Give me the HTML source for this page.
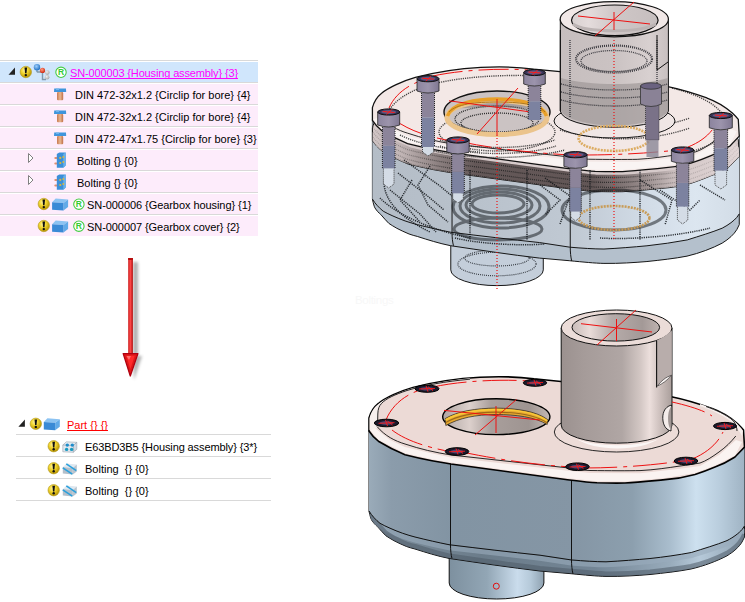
<!DOCTYPE html>
<html><head><meta charset="utf-8">
<style>
html,body{margin:0;padding:0;background:#fff}
body{width:745px;height:602px;position:relative;overflow:hidden;font-family:"Liberation Sans",sans-serif;font-size:11px;color:#000}
.ln{position:absolute;height:1px;background:#d9d9d9}
.row{position:absolute;height:20px}
.t{position:absolute;white-space:pre;line-height:11px;top:0;text-decoration-skip-ink:none}
svg{position:absolute;left:0;top:0}
</style></head><body>
<!-- top tree backgrounds -->
<div class="ln" style="left:0;top:60px;width:258px"></div>
<div class="row" style="left:0;top:62px;width:258px;background:#d0e6fc"></div>
<div class="ln" style="left:0;top:82px;width:258px"></div>
<div class="row" style="left:0;top:84px;width:258px;background:#fdecfb"></div>
<div class="ln" style="left:0;top:104px;width:258px"></div>
<div class="row" style="left:0;top:106px;width:258px;background:#fdecfb"></div>
<div class="ln" style="left:0;top:126px;width:258px"></div>
<div class="row" style="left:0;top:128px;width:258px;background:#fdecfb"></div>
<div class="ln" style="left:0;top:148px;width:258px"></div>
<div class="row" style="left:0;top:150px;width:258px;background:#fdecfb"></div>
<div class="ln" style="left:0;top:170px;width:258px"></div>
<div class="row" style="left:0;top:172px;width:258px;background:#fdecfb"></div>
<div class="ln" style="left:0;top:192px;width:258px"></div>
<div class="row" style="left:0;top:194px;width:258px;background:#fdecfb"></div>
<div class="ln" style="left:0;top:214px;width:258px"></div>
<div class="row" style="left:0;top:216px;width:258px;background:#fdecfb"></div>
<!-- bottom tree lines -->
<div class="ln" style="left:16px;top:434px;width:255px"></div>
<div class="ln" style="left:16px;top:456px;width:255px"></div>
<div class="ln" style="left:16px;top:478px;width:255px"></div>
<div class="ln" style="left:16px;top:500px;width:255px"></div>

<!-- texts -->
<div class="t" style="left:70px;top:68px;color:#f0f;text-decoration:underline;letter-spacing:-0.14px">SN-000003 {Housing assembly} {3}</div>
<div class="t" style="left:75px;top:90px">DIN 472-32x1.2 {Circlip for bore} {4}</div>
<div class="t" style="left:75px;top:112px">DIN 472-32x1.2 {Circlip for bore} {4}</div>
<div class="t" style="left:75px;top:134px">DIN 472-47x1.75 {Circlip for bore} {3}</div>
<div class="t" style="left:77px;top:156px">Bolting {} {0}</div>
<div class="t" style="left:77px;top:178px">Bolting {} {0}</div>
<div class="t" style="left:87px;top:200px;letter-spacing:-0.065px">SN-000006 {Gearbox housing} {1}</div>
<div class="t" style="left:87px;top:222px;letter-spacing:-0.07px">SN-000007 {Gearbox cover} {2}</div>
<div class="t" style="left:67px;top:420px;color:#f00;text-decoration:underline">Part {} {}</div>
<div class="t" style="left:85px;top:442px;letter-spacing:-0.11px">E63BD3B5 {Housing assembly} {3*}</div>
<div class="t" style="left:85px;top:464px">Bolting  {} {0}</div>
<div class="t" style="left:85px;top:486px">Bolting  {} {0}</div>
<div class="t" style="left:355px;top:295px;color:#f7f7f7;font-size:11.5px;letter-spacing:-0.3px">Boltings</div>

<svg width="745" height="602" viewBox="0 0 745 602">
<defs>
 <radialGradient id="gY" cx="40%" cy="35%" r="65%"><stop offset="0" stop-color="#fff3a0"/><stop offset="0.45" stop-color="#f2d630"/><stop offset="1" stop-color="#b89400"/></radialGradient>
 <radialGradient id="gBl" cx="40%" cy="35%" r="65%"><stop offset="0" stop-color="#9fd0ff"/><stop offset="1" stop-color="#1f6fc0"/></radialGradient>
 <radialGradient id="gRd" cx="40%" cy="35%" r="65%"><stop offset="0" stop-color="#ff9a80"/><stop offset="1" stop-color="#d02a10"/></radialGradient>
 <radialGradient id="gGr" cx="40%" cy="35%" r="65%"><stop offset="0" stop-color="#eeeeee"/><stop offset="1" stop-color="#a8a8a8"/></radialGradient>
 <linearGradient id="gCu" x1="0" x2="1"><stop offset="0" stop-color="#c87850"/><stop offset="0.5" stop-color="#e8b890"/><stop offset="1" stop-color="#c07048"/></linearGradient>
 <g id="warn"><circle cx="0" cy="0" r="5.7" fill="url(#gY)" stroke="#b49a20" stroke-width="0.6"/><path d="M-1.3,-4.4 L1.3,-4.4 L0.7,1.3 L-0.7,1.3 Z" fill="#111"/><circle cx="0" cy="3.1" r="1.2" fill="#111"/></g>
 <g id="reg"><circle cx="0" cy="0" r="5.2" fill="#fff" stroke="#44cc44" stroke-width="1.1"/><text x="0" y="3" text-anchor="middle" font-family="Liberation Sans" font-weight="bold" font-size="8.5" fill="#33cc33">R</text></g>
 <g id="box"><path d="M0,3.8 L3.6,0 L16,1 L11.4,4.6 Z" fill="#8cc3f2"/><path d="M11.4,4.6 L16,1 L16,8.6 L11.4,12 Z" fill="#62aae8"/><path d="M0,3.8 L11.4,4.6 L11.4,12 L0,11.4 Z" fill="#3a8ad6"/></g>
 <g id="clip"><path d="M0.2,0.3 L12,0.3 L12.2,3.6 L0,3.6 Z" fill="#3f95dc"/><rect x="2" y="0.3" width="3" height="1.5" fill="#6fb4ee"/><rect x="3" y="3.6" width="6.2" height="8.3" rx="1" fill="url(#gCu)"/></g>
 <g id="bolt"><rect x="0" y="4.5" width="3.2" height="2" rx="1" fill="#e09070"/><rect x="0" y="10" width="3.2" height="2" rx="1" fill="#e09070"/><path d="M2.5,1.5 L5,0 L11.4,0 L11.4,13 L9,15.4 L2.5,15.4 Z" fill="#3b8fd8"/><path d="M9,1.5 L11.4,0 L11.4,13 L9,15.4 Z" fill="#6ab0ea"/><circle cx="6" cy="5.5" r="1.1" fill="#d9b640"/><circle cx="9" cy="4.5" r="1" fill="#d9b640"/><circle cx="6" cy="10.6" r="1.1" fill="#d9b640"/><circle cx="9" cy="9.6" r="1" fill="#d9b640"/></g>
 <g id="tri"><path d="M6.5,0 L6.5,7.3 L0,7.3 Z" fill="#222"/></g>
 <g id="otri"><path d="M0.5,0.5 L5,5 L0.5,9.5 Z" fill="#fff" stroke="#808080" stroke-width="1"/></g>
 <g id="glass"><path d="M0,3.3 L3.5,0 L14,0.5 L10.5,3.8 Z" fill="#e4ecf2" stroke="#9aa4ae" stroke-width="0.6"/><path d="M10.5,3.8 L14,0.5 L14,7.5 L10.5,10.5 Z" fill="#d0dae4" stroke="#9aa4ae" stroke-width="0.6"/><path d="M0,3.3 L10.5,3.8 L10.5,10.5 L0,10 Z" fill="#dfe6ee" stroke="#9aa4ae" stroke-width="0.6"/><circle cx="4.5" cy="3.3" r="1.7" fill="#1e8ccc"/><circle cx="9.5" cy="3.3" r="1.7" fill="#1e8ccc"/><circle cx="3.8" cy="7.6" r="1.7" fill="#1a9ac0"/><circle cx="8.8" cy="7.6" r="1.7" fill="#1a9ac0"/></g>
 <g id="gbolt"><path d="M0,4 L4,0.5 L14,1.5 L10,5 Z" fill="#dfe8f0"/><path d="M10,5 L14,1.5 L14,8.5 L10,11.4 Z" fill="#b8c4cf"/><path d="M0,4 L10,5 L10,11.4 L0,10.5 Z" fill="#b4bfca"/><path d="M0,4.8 L9.5,11.2" stroke="#2aa0dc" stroke-width="1.6"/><path d="M3.5,0.8 L13.5,7.6" stroke="#2aa0dc" stroke-width="1.6"/></g>
</defs>
<!-- top tree icons -->
<use href="#tri" x="8.5" y="67.5"/>
<use href="#warn" x="25.8" y="72"/>
<g stroke="#7f98ab" stroke-width="1.4" fill="none"><path d="M36.5,70.5 L37.5,72 L41,72"/><path d="M42.5,72 L42.5,79.5 L46,79.5"/></g>
<circle cx="37" cy="67.3" r="3.2" fill="url(#gBl)"/>
<circle cx="42.5" cy="70.4" r="2.6" fill="url(#gRd)"/>
<circle cx="47.3" cy="72.6" r="2.3" fill="url(#gGr)"/>
<circle cx="47.1" cy="77.3" r="2.3" fill="url(#gGr)"/>
<use href="#reg" x="61" y="72.3"/>
<use href="#clip" x="54" y="88.3"/>
<use href="#clip" x="54" y="110.3"/>
<use href="#clip" x="54" y="132.3"/>
<use href="#otri" x="28" y="153"/>
<use href="#otri" x="28" y="175"/>
<use href="#bolt" x="54.3" y="152.4"/>
<use href="#bolt" x="54.3" y="174.4"/>
<use href="#warn" x="43.8" y="204"/>
<use href="#warn" x="43.8" y="226"/>
<use href="#box" x="52.1" y="198.4"/>
<use href="#box" x="52.1" y="220.4"/>
<use href="#reg" x="78.9" y="204.2"/>
<use href="#reg" x="78.9" y="226.2"/>
<!-- bottom tree icons -->
<use href="#tri" x="18.4" y="419.5"/>
<use href="#warn" x="35.8" y="423.8"/>
<use href="#box" x="43.8" y="418.2"/>
<use href="#warn" x="53.7" y="446.2"/>
<use href="#warn" x="53.7" y="468.2"/>
<use href="#warn" x="53.7" y="490.2"/>
<use href="#glass" x="62.8" y="441.8"/>
<use href="#gbolt" x="62.8" y="463"/>
<use href="#gbolt" x="62.8" y="485"/>
<!-- arrow -->
<defs><linearGradient id="gAr" x1="0" x2="1"><stop offset="0" stop-color="#c81818"/><stop offset="0.45" stop-color="#ff4a4a"/><stop offset="1" stop-color="#b00e0e"/></linearGradient>
<filter id="fsh" x="-1" y="-0.2" width="3" height="1.4"><feGaussianBlur stdDeviation="1.6"/></filter></defs>
<g opacity="0.45" filter="url(#fsh)"><rect x="133" y="262" width="5" height="93" fill="#555"/><path d="M133,356 L142,356 L134,380 Z" fill="#555"/></g>
<rect x="128.2" y="258" width="4.7" height="97" fill="url(#gAr)"/><rect x="128.2" y="258" width="4.7" height="2" fill="#b80e0e"/>
<path d="M123.2,353.6 L137.9,353.6 L130.3,376 Z" fill="#e01818" stroke="#b00010" stroke-width="1.3" stroke-linejoin="round"/>
<path d="M126.3,355.8 L134.7,355.8 L130.4,369 Z" fill="#ff2a2a"/>
<path d="M126.5,356 L131,356 L129,360 Z" fill="#ff8080" opacity="0.8"/>
<defs>
 <linearGradient id="gTBody" x1="369" x2="745" y1="0" y2="0" gradientUnits="userSpaceOnUse"><stop offset="0" stop-color="#b4bdc7"/><stop offset="0.25" stop-color="#b8c1cb"/><stop offset="0.55" stop-color="#c0c9d3"/><stop offset="0.75" stop-color="#d2dce7"/><stop offset="0.88" stop-color="#dce6f0"/><stop offset="1" stop-color="#d2dce6"/></linearGradient>
 <linearGradient id="gTTube" x1="561" x2="672" y1="0" y2="0" gradientUnits="userSpaceOnUse">
  <stop offset="0" stop-color="#c6bebe"/><stop offset="0.5" stop-color="#cbc3c3"/><stop offset="0.8" stop-color="#d8d0d0"/><stop offset="1" stop-color="#c4bcbc"/></linearGradient>
 <linearGradient id="gScrH" x1="0" x2="1" y1="0" y2="0"><stop offset="0" stop-color="#8c849e"/><stop offset="0.5" stop-color="#9c94ac"/><stop offset="1" stop-color="#807892"/></linearGradient>
 <linearGradient id="gTBandS" x1="369" x2="745" y1="0" y2="0" gradientUnits="userSpaceOnUse"><stop offset="0" stop-color="#d2c6c6"/><stop offset="0.08" stop-color="#c0b4b4"/><stop offset="0.18" stop-color="#8c8080"/><stop offset="0.28" stop-color="#645858"/><stop offset="0.6" stop-color="#625656"/><stop offset="0.74" stop-color="#988c8c"/><stop offset="0.84" stop-color="#d4c8c8"/><stop offset="1" stop-color="#e2d6d6"/></linearGradient>
 <linearGradient id="gBandDots" x1="369" x2="745" y1="0" y2="0" gradientUnits="userSpaceOnUse"><stop offset="0" stop-color="#1e1e1e" stop-opacity="0.2"/><stop offset="0.1" stop-color="#1e1e1e" stop-opacity="0.35"/><stop offset="0.25" stop-color="#1e1e1e" stop-opacity="0.8"/><stop offset="0.65" stop-color="#1e1e1e" stop-opacity="0.8"/><stop offset="0.85" stop-color="#1e1e1e" stop-opacity="0.2"/><stop offset="1" stop-color="#1e1e1e" stop-opacity="0.1"/></linearGradient>
 <linearGradient id="gTIn" x1="571" x2="658" y1="0" y2="0" gradientUnits="userSpaceOnUse"><stop offset="0" stop-color="#d8d0d0"/><stop offset="0.2" stop-color="#e4dcdc"/><stop offset="0.5" stop-color="#cfc7c7"/><stop offset="1" stop-color="#c6bebe"/></linearGradient>
 <clipPath id="cpBand"><use href="#pLid" transform="translate(0,20.5)"/></clipPath>
</defs>
<g id="modelT" transform="matrix(0.977,0,0,0.9837,11.9,-303.6)">
 <use href="#pPipe" fill="#c4ceda" stroke="#111" stroke-width="1"/>
 <g fill="none" stroke="#3a3f46" stroke-width="1.2" stroke-dasharray="1,1">
  <ellipse cx="496.5" cy="577" rx="40" ry="12"/>
  <ellipse cx="496.5" cy="571" rx="33" ry="8"/>
 </g>
 <use href="#pSil" fill="#b4c0cc" stroke="#111" stroke-width="1"/>
 <use href="#pWall" fill="url(#gTBody)"/>
 <use href="#pFL" fill="none" stroke="#111" stroke-width="1"/>
 <use href="#pS1" fill="none" stroke="#111" stroke-width="1"/>
 <use href="#pS2" fill="none" stroke="#111" stroke-width="1"/>
 <use href="#pLid" transform="translate(0,20.5)" fill="#d6caca" stroke="#111" stroke-width="1"/>
 <g clip-path="url(#cpBand)"><use href="#pBnd" transform="translate(0,12)" fill="none" stroke="url(#gTBandS)" stroke-width="17.5"/></g>
 <use href="#pLid" fill="#f3e8e6" stroke="#111" stroke-width="1.3"/>
 <use href="#pHi" fill="#f9f4f3"/>
 <use href="#pIn" fill="none" stroke="#111" stroke-width="0.9"/>
</g>

<g fill="none" stroke="#101418" stroke-width="3" opacity="0.5">
 <ellipse cx="501" cy="207" rx="48" ry="21"/>
 <ellipse cx="500" cy="206" rx="40" ry="17"/>
 <ellipse cx="499" cy="205" rx="33" ry="13"/>
 <ellipse cx="498" cy="204" rx="26" ry="9"/>
 <ellipse cx="498" cy="229" rx="44" ry="11"/>
 <ellipse cx="614" cy="210" rx="52" ry="20"/>
</g>
<g fill="none" stroke="#101418" stroke-width="1.5" stroke-dasharray="1.2,1" opacity="0.85">
 <path d="M398,173 L430,198 L444,210"/>
 <path d="M404,160 L440,186 L452,196"/>
 <path d="M390,190 L420,214 L436,232"/>
 <path d="M412,180 L400,200 L420,222"/>
 <path d="M430,166 L418,185 L428,205 L448,222"/>
 <path d="M385,175 C380,195 395,215 430,232"/>
 <path d="M540,185 L560,200 L545,215"/>
 <path d="M545,178 L570,196 L560,224"/>
 <path d="M660,190 L690,210 L700,200"/>
 <path d="M640,180 L672,200 L665,225"/>
 <path d="M700,185 L725,200"/>
 <path d="M380,198 C400,218 440,232 470,238"/>
 <path d="M590,170 L590,240"/><path d="M640,170 L640,240"/>
 <path d="M470,170 L470,240"/><path d="M527,170 L527,240"/>
 <path d="M600,238 C630,240 680,236 710,228"/>
 <path d="M455,238 C480,244 520,246 545,244"/>
</g>
<!-- cover band dotted lines -->
<g transform="matrix(0.977,0,0,0.9837,11.9,-303.6)" fill="none" stroke="url(#gBandDots)" stroke-width="1.3" stroke-dasharray="1,1" clip-path="url(#cpBand)">
 <use href="#pBnd" transform="translate(0,6)"/>
 <use href="#pBnd" transform="translate(0,11)"/>
 <use href="#pBnd" transform="translate(0,16)"/>
 <use href="#pBnd" transform="translate(0,20)"/>
</g>
<!-- lid inner dotted structure -->
<g fill="none" stroke="#101010" stroke-width="1.4" stroke-dasharray="1.2,1" opacity="0.75">
 <path d="M385,128 C383,112 395,98 420,88 C450,77 500,74 545,76"/>
 <path d="M672,88 C700,95 722,106 726,122 C728,135 715,145 690,152"/>
 <path d="M400,135 C420,145 450,150 480,152"/>
 <ellipse cx="497" cy="132" rx="58" ry="19"/>
 <path d="M440,146 C470,156 525,156 556,146"/>
 <path d="M560,130 C600,142 650,142 690,128"/>
 <path d="M560,120 C600,132 650,132 690,118"/>
</g>

<ellipse cx="497" cy="112" rx="53" ry="21" fill="#cbc3c3" stroke="#111" stroke-width="1.4"/>
<path d="M450,110 C465,100 530,100 545,112 C530,106 465,106 450,110 Z" fill="#8e8686" opacity="0.6"/>
<g fill="none" stroke="#303030" stroke-width="1.4" stroke-dasharray="1,1">
 <ellipse cx="497" cy="119" rx="42" ry="13"/>
 <ellipse cx="497" cy="123" rx="36" ry="10"/>
 <path d="M440,140 C470,150 525,150 555,140"/>
 <path d="M430,150 C470,160 525,160 565,150"/>
</g>
<ellipse cx="497" cy="117.5" rx="50" ry="17" fill="none" stroke="#ebc48c" stroke-width="5"/>
<path d="M447.5,116 C452,103 476,99 497,99 C518,99 542,103 546.5,116" fill="none" stroke="#e8a028" stroke-width="3.4"/>
<path d="M449,112 C456,104 476,102 497,102 C518,102 538,104 545,112" fill="none" stroke="#b07818" stroke-width="1"/>

<ellipse cx="614.5" cy="121" rx="60.5" ry="17" fill="#efe6e5" stroke="#111" stroke-width="1"/>
<path d="M560.3,19 L560.3,111 A54.1,17 0 0 0 668.4,111 L668.4,19 Z" fill="url(#gTTube)" stroke="#111" stroke-width="1"/>
<path d="M561,78 C590,86 640,86 668,78 L668,111 A54.1,17 0 0 1 561,111 Z" fill="#a09898" opacity="0.7"/>
<g fill="none" stroke="#2a2a30" stroke-width="1.3" stroke-dasharray="1,1" opacity="0.9">
 <ellipse cx="614" cy="59" rx="38" ry="13.5" stroke-width="2.2"/>
 <ellipse cx="614" cy="61" rx="33" ry="10.5"/>
 <path d="M561,84 C590,92 640,92 668,84"/>
 <path d="M561,92 C590,100 640,100 668,92"/>
 <path d="M561,100 C590,108 640,108 668,100"/>
 <path d="M570,40 L570,118"/><path d="M657,40 L657,118"/>
</g>
<path d="M560.3,30 L560.3,111" stroke="#111" stroke-width="1"/>
<ellipse cx="614.3" cy="19.2" rx="54.1" ry="17.6" fill="#f1e8e7" stroke="#111" stroke-width="1.2"/>
<ellipse cx="614.8" cy="20.3" rx="43.3" ry="15.3" fill="url(#gTIn)" stroke="#111" stroke-width="1.2"/>
<path d="M573,24 C585,33 640,33 656,24" fill="none" stroke="#bcb4b4" stroke-width="3"/>
<path d="M657,35 L657,70 L668,62" fill="none" stroke="#111" stroke-width="1"/>

<ellipse cx="614" cy="138.4" rx="35.4" ry="12.5" fill="none" stroke="#dcac62" stroke-width="2.6" stroke-dasharray="2,1"/>
<ellipse cx="614" cy="218" rx="35.4" ry="12" fill="none" stroke="#c89c58" stroke-width="2.6" stroke-dasharray="2,1"/>

<g stroke="#ee1111" stroke-width="1" fill="none">
 <path d="M578,16 L650,24"/><path d="M595,36 L634,2"/><path d="M614,12 L614,30"/>
 <path d="M449,100.8 L533,112.3"/><path d="M477,134 L518,88"/><path d="M497,99 L497,135"/>
</g>
<g stroke="#ee1111" stroke-width="1.2" fill="none" stroke-dasharray="1,2">
 <path d="M497,135 L497,290"/><path d="M614,40 L614,240"/>
</g>
<g stroke="#ee1111" stroke-width="1" fill="none" stroke-dasharray="30,6,4,6">
 <path d="M389,108 C395,94 408,85 423,80"/>
 <path d="M395,120 C408,130 428,137 452,141"/>
 <path d="M462,142 C495,149 535,153 570,155"/>
 <path d="M582,155 C620,155 650,153 678,150"/>
 <path d="M688,147 C703,141 713,132 718,120"/>
 <path d="M433,76 C460,70 500,68 528,70"/>
</g>

<g><rect x="645.5" y="104" width="13.5" height="36" fill="#7a7288" stroke="#333" stroke-width="0.8" stroke-dasharray="1,1"/><rect x="646.5" y="140" width="12" height="17" fill="#8a8696" opacity="0.8"/><path d="M640.5,86 L640.5,104 Q651,109 661.5,104 L661.5,86 Z" fill="#8a8296" stroke="#333" stroke-width="0.8"/><ellipse cx="651" cy="86" rx="10.5" ry="3.2" fill="#6a6280" stroke="#333" stroke-width="0.8"/></g>
<rect x="421.5" y="93.0" width="13.0" height="24.3" fill="#8c849a"/>
<rect x="421.5" y="117.3" width="13.0" height="29.7" fill="#7c82a0"/>
<path d="M421.5,93.0 L421.5,147.0 M434.5,93.0 L434.5,147.0" stroke="#222" stroke-width="1" stroke-dasharray="1,1"/>
<path d="M422.5,147.0 L422.5,152.0 L428.0,156.0 L433.5,152.0 L433.5,147.0" fill="#d4dce6" stroke="#333" stroke-width="0.9" stroke-dasharray="1,1"/>
<path d="M417.0,78.7 L417.0,91.0 Q428.0,95.0 439.0,91.0 L439.0,78.7 Z" fill="url(#gScrH)" stroke="#222" stroke-width="0.8"/>
<ellipse cx="428.0" cy="78.7" rx="11.0" ry="3.1" fill="#3a3456" stroke="#111" stroke-width="1"/>
<ellipse cx="428.0" cy="78.7" rx="7.5" ry="1.9000000000000001" fill="#5e5a84"/>
<path d="M422.0,78.2 L434.0,79.2 M426.0,81.2 L431.0,76.2" stroke="#ff1a1a" stroke-width="1"/>
<rect x="382.4" y="127.0" width="12.6" height="18.7" fill="#8c849a"/>
<rect x="382.4" y="145.7" width="12.6" height="22.9" fill="#7c82a0"/>
<path d="M382.4,127.0 L382.4,168.6 M395.0,127.0 L395.0,168.6" stroke="#222" stroke-width="1" stroke-dasharray="1,1"/>
<path d="M383.4,168.6 L383.4,184.0 L388.7,188.0 L394.0,184.0 L394.0,168.6" fill="#d4dce6" stroke="#333" stroke-width="0.9" stroke-dasharray="1,1"/>
<path d="M377.7,112.0 L377.7,125.0 Q388.7,129.0 399.7,125.0 L399.7,112.0 Z" fill="url(#gScrH)" stroke="#222" stroke-width="0.8"/>
<ellipse cx="388.7" cy="112.0" rx="11.0" ry="3.1" fill="#3a3456" stroke="#111" stroke-width="1"/>
<ellipse cx="388.7" cy="112.0" rx="7.5" ry="1.9000000000000001" fill="#5e5a84"/>
<path d="M382.7,111.5 L394.7,112.5 M386.7,114.5 L391.7,109.5" stroke="#ff1a1a" stroke-width="1"/>
<rect x="451.7" y="154.0" width="12.6" height="17.8" fill="#8c849a"/>
<rect x="451.7" y="171.8" width="12.6" height="21.7" fill="#7c82a0"/>
<path d="M451.7,154.0 L451.7,193.5 M464.3,154.0 L464.3,193.5" stroke="#222" stroke-width="1" stroke-dasharray="1,1"/>
<path d="M452.7,193.5 L452.7,199.0 L458.0,203.0 L463.3,199.0 L463.3,193.5" fill="#d4dce6" stroke="#333" stroke-width="0.9" stroke-dasharray="1,1"/>
<path d="M446.8,140.0 L446.8,152.0 Q458.0,156.0 469.2,152.0 L469.2,140.0 Z" fill="url(#gScrH)" stroke="#222" stroke-width="0.8"/>
<ellipse cx="458.0" cy="140.0" rx="11.2" ry="3.1" fill="#3a3456" stroke="#111" stroke-width="1"/>
<ellipse cx="458.0" cy="140.0" rx="7.7" ry="1.9000000000000001" fill="#5e5a84"/>
<path d="M452.0,139.5 L464.0,140.5 M456.0,142.5 L461.0,137.5" stroke="#ff1a1a" stroke-width="1"/>
<rect x="528.2" y="86.0" width="12.6" height="15.3" fill="#8c849a"/>
<rect x="528.2" y="101.3" width="12.6" height="18.7" fill="#7c82a0"/>
<path d="M528.2,86.0 L528.2,120.0 M540.8,86.0 L540.8,120.0" stroke="#222" stroke-width="1" stroke-dasharray="1,1"/>
<path d="M523.7,72.5 L523.7,84.0 Q534.5,88.0 545.3,84.0 L545.3,72.5 Z" fill="url(#gScrH)" stroke="#222" stroke-width="0.8"/>
<ellipse cx="534.5" cy="72.5" rx="10.8" ry="3.1" fill="#3a3456" stroke="#111" stroke-width="1"/>
<ellipse cx="534.5" cy="72.5" rx="7.3" ry="1.9000000000000001" fill="#5e5a84"/>
<path d="M528.5,72.0 L540.5,73.0 M532.5,75.0 L537.5,70.0" stroke="#ff1a1a" stroke-width="1"/>
<rect x="569.7" y="168.3" width="11.6" height="19.5" fill="#8c849a"/>
<rect x="569.7" y="187.8" width="11.6" height="23.9" fill="#7c82a0"/>
<path d="M569.7,168.3 L569.7,211.7 M581.3,168.3 L581.3,211.7" stroke="#222" stroke-width="1" stroke-dasharray="1,1"/>
<path d="M570.7,211.7 L570.7,217.0 L575.5,221.0 L580.3,217.0 L580.3,211.7" fill="#d4dce6" stroke="#333" stroke-width="0.9" stroke-dasharray="1,1"/>
<path d="M563.9,154.7 L563.9,166.3 Q575.5,170.3 587.1,166.3 L587.1,154.7 Z" fill="url(#gScrH)" stroke="#222" stroke-width="0.8"/>
<ellipse cx="575.5" cy="154.7" rx="11.6" ry="3.1" fill="#3a3456" stroke="#111" stroke-width="1"/>
<ellipse cx="575.5" cy="154.7" rx="8.1" ry="1.9000000000000001" fill="#5e5a84"/>
<path d="M569.5,154.2 L581.5,155.2 M573.5,157.2 L578.5,152.2" stroke="#ff1a1a" stroke-width="1"/>
<rect x="676.4" y="163.3" width="12.4" height="19.6" fill="#8c849a"/>
<rect x="676.4" y="182.9" width="12.4" height="23.9" fill="#7c82a0"/>
<path d="M676.4,163.3 L676.4,206.8 M688.8,163.3 L688.8,206.8" stroke="#222" stroke-width="1" stroke-dasharray="1,1"/>
<path d="M677.4,206.8 L677.4,220.0 L682.6,224.0 L687.8,220.0 L687.8,206.8" fill="#d4dce6" stroke="#333" stroke-width="0.9" stroke-dasharray="1,1"/>
<path d="M671.4,150.0 L671.4,161.3 Q682.6,165.3 693.8,161.3 L693.8,150.0 Z" fill="url(#gScrH)" stroke="#222" stroke-width="0.8"/>
<ellipse cx="682.6" cy="150.0" rx="11.2" ry="3.1" fill="#3a3456" stroke="#111" stroke-width="1"/>
<ellipse cx="682.6" cy="150.0" rx="7.7" ry="1.9000000000000001" fill="#5e5a84"/>
<path d="M676.6,149.5 L688.6,150.5 M680.6,152.5 L685.6,147.5" stroke="#ff1a1a" stroke-width="1"/>
<rect x="714.0" y="129.8" width="13.6" height="18.4" fill="#8c849a"/>
<rect x="714.0" y="148.2" width="13.6" height="22.6" fill="#7c82a0"/>
<path d="M714.0,129.8 L714.0,170.8 M727.6,129.8 L727.6,170.8" stroke="#222" stroke-width="1" stroke-dasharray="1,1"/>
<path d="M715.0,170.8 L715.0,185.0 L720.8,189.0 L726.6,185.0 L726.6,170.8" fill="#d4dce6" stroke="#333" stroke-width="0.9" stroke-dasharray="1,1"/>
<path d="M709.3,115.5 L709.3,127.8 Q720.8,131.8 732.3,127.8 L732.3,115.5 Z" fill="url(#gScrH)" stroke="#222" stroke-width="0.8"/>
<ellipse cx="720.8" cy="115.5" rx="11.5" ry="3.1" fill="#3a3456" stroke="#111" stroke-width="1"/>
<ellipse cx="720.8" cy="115.5" rx="8.0" ry="1.9000000000000001" fill="#5e5a84"/>
<path d="M714.8,115.0 L726.8,116.0 M718.8,118.0 L723.8,113.0" stroke="#ff1a1a" stroke-width="1"/><defs>
 <linearGradient id="gPipe" x1="449" x2="544" y1="0" y2="0" gradientUnits="userSpaceOnUse">
  <stop offset="0" stop-color="#7d909f"/><stop offset="0.4" stop-color="#92a6b5"/><stop offset="0.72" stop-color="#cadcec"/><stop offset="0.86" stop-color="#b5c9d9"/><stop offset="1" stop-color="#8ea1b0"/></linearGradient>
 <linearGradient id="gWall" x1="369" x2="745" y1="0" y2="0" gradientUnits="userSpaceOnUse">
  <stop offset="0" stop-color="#9aabb9"/><stop offset="0.06" stop-color="#8b9cab"/><stop offset="0.22" stop-color="#8294a3"/><stop offset="0.55" stop-color="#8596a5"/><stop offset="0.7" stop-color="#8c9fae"/><stop offset="0.8" stop-color="#a9bdcd"/><stop offset="0.87" stop-color="#cde0ef"/><stop offset="0.93" stop-color="#bacede"/><stop offset="1" stop-color="#9fb3c3"/></linearGradient>
 <linearGradient id="gFil" x1="369" x2="745" y1="0" y2="0" gradientUnits="userSpaceOnUse">
  <stop offset="0" stop-color="#8192a0"/><stop offset="0.3" stop-color="#6b7c8a"/><stop offset="0.6" stop-color="#738595"/><stop offset="0.8" stop-color="#98abbb"/><stop offset="0.88" stop-color="#b6c9d9"/><stop offset="1" stop-color="#8fa2b2"/></linearGradient>
 <linearGradient id="gTube" x1="561" x2="672" y1="0" y2="0" gradientUnits="userSpaceOnUse">
  <stop offset="0" stop-color="#9b918f"/><stop offset="0.2" stop-color="#a59b99"/><stop offset="0.55" stop-color="#b0a6a4"/><stop offset="0.72" stop-color="#d4c8c5"/><stop offset="0.8" stop-color="#ecdfdc"/><stop offset="0.9" stop-color="#cabdba"/><stop offset="1" stop-color="#a99e9b"/></linearGradient>
 <linearGradient id="gTubeIn" x1="572" x2="660" y1="0" y2="0" gradientUnits="userSpaceOnUse">
  <stop offset="0" stop-color="#c9bcb9"/><stop offset="0.2" stop-color="#e9dcd9"/><stop offset="0.45" stop-color="#b7acaa"/><stop offset="0.8" stop-color="#a39997"/><stop offset="1" stop-color="#bfb3b0"/></linearGradient>
 <linearGradient id="gHole" x1="443" x2="550" y1="0" y2="0" gradientUnits="userSpaceOnUse">
  <stop offset="0" stop-color="#b0a6a3"/><stop offset="0.25" stop-color="#dcd0cc"/><stop offset="0.45" stop-color="#a99f9c"/><stop offset="0.8" stop-color="#9e9491"/><stop offset="1" stop-color="#c4b8b4"/></linearGradient>
</defs>
<defs>
 <path id="pPipe" d="M449.2,540 L449.2,583 A47.35,16 0 0 0 543.9,583 L543.9,540 Z"/>
 <path id="pSil" d="M369,430 L369,511 C370,516 371,519 371.6,520 C373.5,523 375.5,525 377.5,526.6 C380.5,530 383,533 385.8,535.7 C388.5,537.5 391,539 394,540.7 C398,542.7 402,544.7 406.5,546.5 C409.5,547.5 412,548.3 415,549 C426,552.5 437,556 449,558.4 C480,563 510,567.5 540,571 L571,573.7 C585,575 596,576.2 606,576.4 C622,576.6 637,575.6 650,574.5 C664,573 678,571.5 691,569 C704,566 717,561 727,555.8 C734,551.5 739,547 742,542 L744.5,537 L744.5,446 Z"/>
 <path id="pWall" d="M369,431 L369,511 C372,516 376,520 380,523.3 C383,525 386.5,526.7 390,528.2 C394,530 398,531.6 402.4,533.2 C407,534.8 411,536 415,537 C427,540 438,542.5 449,544.7 C480,548.5 510,552 540,555.2 L571,559.9 C584,561 595,561.7 606,561.8 C621,561 636,559.8 650,558.5 C664,557 678,555 691.3,552.5 C704,548.5 716,545 727,540.6 C734,537 739,533 742,529.6 L744.5,526 L744.5,447 L735,457 C728,461.5 722,464.5 715,467 C708,470 701,472.5 695,474.5 C686,477 675,479 665,479.6 C652,480.8 640,482.3 625,483 C615,483.2 605,483 597,482.8 C588,482.3 578,481 565.7,479.5 C527,474.4 489,469 451,464 L432,460.7 C423,459 414,457 405,454.7 C396,451 387,446.5 378.4,441.2 C375,438.5 371.5,435 369,431 Z"/>
 <path id="pFL" d="M369,511 C372,516 376,520 380,523.3 C383,525 386.5,526.7 390,528.2 C394,530 398,531.6 402.4,533.2 C407,534.8 411,536 415,537 C427,540 438,542.5 449,544.7 C480,548.5 510,552 540,555.2 L571,559.9 C584,561 595,561.7 606,561.8 C621,561 636,559.8 650,558.5 C664,557 678,555 691.3,552.5 C704,548.5 716,545 727,540.6 C734,537 739,533 742,529.6 L744.5,526"/>
 <path id="pS1" d="M450.5,464 L450.5,545 C450.5,550 451,555 452,558.5"/>
 <path id="pS2" d="M571.5,479 L571.5,560 C571.5,565 572,570 573,574"/>
 <path id="pLid" d="M369,431 L369,418 C371,411 374,407 378.4,403.5 C385,398 400,391 413,387.4 C430,383 455,378.5 480,377.2 C500,376.2 520,377 534,378.8 L561,381.5 C600,386 640,391 671.4,396.7 C690,400.5 701,404.5 711.5,408.3 C722,412 731,418 737.4,423.5 C740,426 742,428 743.5,430 L744.5,447 L735,457 C728,461.5 722,464.5 715,467 C708,470 701,472.5 695,474.5 C686,477 675,479 665,479.6 C652,480.8 640,482.3 625,483 C615,483.2 605,483 597,482.8 C588,482.3 578,481 565.7,479.5 C527,474.4 489,469 451,464 L432,460.7 C423,459 414,457 405,454.7 C396,451 387,446.5 378.4,441.2 C375,438.5 371.5,435 369,431 Z"/>
 <path id="pHi" d="M375,428 L390,440 L405,447 L430,453 L451,457.5 L566,470.5 L590,473 L640,473.2 L680,468.8 L700,466 L719,455 L736,440 L742,442 L735,455.5 L715,465.5 L695,473 L665,478 L625,481.5 L597,481.3 L565.7,478 L451,462.5 L432,459.2 L405,453.2 L378.4,439.7 L370,430 Z"/>
 <path id="pIn" d="M377,426.5 C385,436 395,441 405,444 C420,449 435,452.5 451,455 L566,467.7 C575,469 582,470.2 590,470.5 C610,470.8 628,470.8 640,470.6 C655,469.8 668,467.8 680,466 C688,465 694,464 700,463 C706,461 712,457 719,452 C726,447 731,442 735.8,436"/>
 <path id="pBot" d="M369,511 C370,516 371,519 371.6,520 C373.5,523 375.5,525 377.5,526.6 C380.5,530 383,533 385.8,535.7 C388.5,537.5 391,539 394,540.7 C398,542.7 402,544.7 406.5,546.5 C409.5,547.5 412,548.3 415,549 C426,552.5 437,556 449,558.4 C480,563 510,567.5 540,571 L571,573.7 C585,575 596,576.2 606,576.4 C622,576.6 637,575.6 650,574.5 C664,573 678,571.5 691,569 C704,566 717,561 727,555.8 C734,551.5 739,547 742,542 L744.5,537"/>
 <clipPath id="cpSil"><use href="#pSil"/></clipPath>
 <path id="pBnd" d="M744.5,447 L735,457 C728,461.5 722,464.5 715,467 C708,470 701,472.5 695,474.5 C686,477 675,479 665,479.6 C652,480.8 640,482.3 625,483 C615,483.2 605,483 597,482.8 C588,482.3 578,481 565.7,479.5 C527,474.4 489,469 451,464 L432,460.7 C423,459 414,457 405,454.7 C396,451 387,446.5 378.4,441.2 C375,438.5 371.5,435 369,431"/>
</defs>
<g id="modelB">
 <!-- pipe -->
 <use href="#pPipe" fill="url(#gPipe)" stroke="#111" stroke-width="1"/>
 <circle cx="496.3" cy="586.2" r="3" fill="none" stroke="#e01010" stroke-width="1"/>
 <!-- full side silhouette (fillet band colour) -->
 <use href="#pSil" fill="url(#gFil)" stroke="#111" stroke-width="1"/>
 <!-- main wall -->
 <g clip-path="url(#cpSil)" fill="none"><use href="#pFL" transform="translate(0,3)" stroke="#9aacbc" stroke-width="5" opacity="0.6"/><use href="#pBot" transform="translate(0,-2.5)" stroke="#4e5b68" stroke-width="5" opacity="0.55"/></g>
 <use href="#pWall" fill="url(#gWall)"/>
 <use href="#pFL" fill="none" stroke="#111" stroke-width="1"/>
 <!-- seams -->
 <use href="#pS1" fill="none" stroke="#111" stroke-width="1"/>
 <use href="#pS2" fill="none" stroke="#111" stroke-width="1"/>
 <!-- lid top -->
 <use href="#pLid" fill="#ecdad6" stroke="#000" stroke-width="1.6"/>
 <path d="M369.5,430 L369.5,418 C371.5,411 374.5,407 378.8,403.8 C385,398.5 400,391.5 413,388 C430,383.5 450,380 470,378.2 L470,379.5 C445,381.5 425,385 407,390.5 C395,394.5 386,398.5 381.5,403.5 C378.8,407 377.8,412 377.8,420 L377.5,428 Z" fill="#f7efed"/>
 <path d="M377.6,424 L377.8,414 C378,409 379,406 381.5,403.5 C386,398.5 395,394.5 407,390.5 C425,385 445,381.5 470,379.2" fill="none" stroke="#111" stroke-width="0.9"/>
 <!-- front fillet highlight -->
 <use href="#pHi" fill="#faf3f1"/>
 <path d="M700,404 C712,408 724,413 733,420 C738,424 741,428 743,431 L742,436 C739,430 735,425 729,420 C722,415 712,410 700,406 Z" fill="#f8f0ee"/>
 <path d="M706,406.5 C716,410 726,414.5 733,420.5 C736,424 737,428 737,431" fill="none" stroke="#111" stroke-width="0.9"/>
 <use href="#pIn" fill="none" stroke="#111" stroke-width="0.9"/>
 <!-- hole -->
 <ellipse cx="496.3" cy="416.7" rx="53.6" ry="17.9" fill="url(#gHole)" stroke="#000" stroke-width="1.4"/>
 <path d="M445.3,418.5 C458,411 476,408.3 496,408.1 C516,408.3 536,411 547.5,419.5 L547.2,424.5 C535,417 516,414.6 496,414.5 C476,414.6 459,418 445.8,425.5 Z" fill="#e8a830" stroke="#222" stroke-width="0.7"/>
 <path d="M445.5,420 C458,412.6 476,409.8 496,409.6 C516,409.8 536,412.6 547.4,421" fill="none" stroke="#f8c838" stroke-width="1.6"/>
 <path d="M445.6,422.6 C458,415.2 476,412.3 496,412.1 C516,412.3 536,415.2 547.3,423" fill="none" stroke="#9a6a18" stroke-width="1.1"/>
 <g stroke="#ee1111" stroke-width="1" fill="none"><path d="M444,410.4 L540,420"/><path d="M475,435 L516.5,399.5"/><path d="M496,406 L496,433"/></g>
 <!-- tube flange -->
 <defs><radialGradient id="gFl" cx="616.6" cy="425" r="62" gradientUnits="userSpaceOnUse" gradientTransform="translate(616.6,425) scale(1,0.33) translate(-616.6,-425)"><stop offset="0.8" stop-color="#f8f1ef"/><stop offset="0.9" stop-color="#ecdcd8"/><stop offset="1" stop-color="#f3e8e5"/></radialGradient></defs>
 <ellipse cx="616.6" cy="432" rx="62.3" ry="20" fill="#eddcd8" stroke="#111" stroke-width="0.9"/>
 <path d="M575,438 C595,452 640,452 660,438 C645,447.5 590,447.5 575,438 Z" fill="#fbf7f6"/>
 <!-- tube -->
 <path d="M561.2,328 L561.2,425 A55.4,18.2 0 0 0 672,425 L672,328 Z" fill="url(#gTube)" stroke="#111" stroke-width="1"/>
 <ellipse cx="616.6" cy="328" rx="55.4" ry="18" fill="#ebdcd8" stroke="#111" stroke-width="1"/>
 <ellipse cx="615.8" cy="327.4" rx="43.8" ry="13.7" fill="url(#gTubeIn)" stroke="#111" stroke-width="1"/>
 <g stroke="#ee1111" stroke-width="1" fill="none"><path d="M581,323.7 L652,332"/><path d="M597,345 L636,310"/><path d="M616.5,319 L616.5,341"/></g>
 <path d="M656.6,340.5 L656.6,387 C661,383 666,378.5 671.8,374.5 L671.8,330.5 C668,334 663,337.5 656.6,340.5 Z" fill="#b8adab"/>
 <path d="M656.6,340.5 L656.6,387.5" stroke="#111" stroke-width="1.1"/>
 <path d="M657.5,386 C661,381 666,377 671,375.5 C668,380 662,384 657.5,386 Z" fill="#fbf6f5" stroke="#222" stroke-width="0.6"/>
 <path d="M671.5,405 C664,407 662,414 663,421 C664,427 667,430 671,431 Z" fill="#f4ecea" stroke="#111" stroke-width="0.9"/>
 <path d="M671.5,406 C668,410 667.5,418 668.5,424 C669,427 670,429 671.5,430 Z" fill="#a09694"/>
 <!-- bolt circle red dash -->
 <g stroke="#ee1111" stroke-width="1" fill="none" stroke-dasharray="34,6,4,6">
  <path d="M386,420 C392,405 405,395 420,390"/>
  <path d="M392,430 C405,440 425,447 452,452"/>
  <path d="M462,452 C495,459 535,465 572,467"/>
  <path d="M583,468 C620,468 655,465 681,461"/>
  <path d="M692,459 C707,453 718,443 723,432"/>
  <path d="M433,387 C460,381 500,379 528,381"/>
  <path d="M672,402 C690,406 705,411 712,416"/>
 </g>
 <!-- screws -->
 <g id="screwsB">
  <ellipse cx="386.5" cy="423" rx="12.2" ry="3.8" fill="#1c1a2c" stroke="#000" stroke-width="1"/>
  <ellipse cx="386.5" cy="423" rx="6.9" ry="1.9" fill="#4a4874"/>
  <path d="M378.5,423.3 L394.5,422.7 M385.5,420.0 L387.5,426.0 M387.5,421.0 L392.5,425.0" stroke="#ff1818" stroke-width="0.9" fill="none"/>
  <ellipse cx="427" cy="388.7" rx="12" ry="3.6" fill="#1c1a2c" stroke="#000" stroke-width="1"/>
  <ellipse cx="427" cy="388.7" rx="6.7" ry="1.7" fill="#4a4874"/>
  <path d="M419.0,389.0 L435.0,388.4 M426.0,385.7 L428.0,391.7 M428.0,386.7 L433.0,390.7" stroke="#ff1818" stroke-width="0.9" fill="none"/>
  <ellipse cx="457" cy="451.5" rx="11.8" ry="3.8" fill="#1c1a2c" stroke="#000" stroke-width="1"/>
  <ellipse cx="457" cy="451.5" rx="6.5" ry="1.9" fill="#4a4874"/>
  <path d="M449.0,451.8 L465.0,451.2 M456.0,448.5 L458.0,454.5 M458.0,449.5 L463.0,453.5" stroke="#ff1818" stroke-width="0.9" fill="none"/>
  <ellipse cx="535" cy="382.8" rx="11.7" ry="3.5" fill="#1c1a2c" stroke="#000" stroke-width="1"/>
  <ellipse cx="535" cy="382.8" rx="6.4" ry="1.6" fill="#4a4874"/>
  <path d="M527.0,383.1 L543.0,382.5 M534.0,379.8 L536.0,385.8 M536.0,380.8 L541.0,384.8" stroke="#ff1818" stroke-width="0.9" fill="none"/>
  <ellipse cx="577.5" cy="466.7" rx="11.8" ry="3.8" fill="#1c1a2c" stroke="#000" stroke-width="1"/>
  <ellipse cx="577.5" cy="466.7" rx="6.5" ry="1.9" fill="#4a4874"/>
  <path d="M569.5,467.0 L585.5,466.4 M576.5,463.7 L578.5,469.7 M578.5,464.7 L583.5,468.7" stroke="#ff1818" stroke-width="0.9" fill="none"/>
  <ellipse cx="686" cy="461" rx="11.8" ry="3.8" fill="#1c1a2c" stroke="#000" stroke-width="1"/>
  <ellipse cx="686" cy="461" rx="6.5" ry="1.9" fill="#4a4874"/>
  <path d="M678.0,461.3 L694.0,460.7 M685.0,458.0 L687.0,464.0 M687.0,459.0 L692.0,463.0" stroke="#ff1818" stroke-width="0.9" fill="none"/>
  <ellipse cx="725" cy="426" rx="11.5" ry="3.6" fill="#1c1a2c" stroke="#000" stroke-width="1"/>
  <ellipse cx="725" cy="426" rx="6.2" ry="1.7" fill="#4a4874"/>
  <path d="M717.0,426.3 L733.0,425.7 M724.0,423.0 L726.0,429.0 M726.0,424.0 L731.0,428.0" stroke="#ff1818" stroke-width="0.9" fill="none"/>
 </g>
</g>

</svg>
</body></html>
